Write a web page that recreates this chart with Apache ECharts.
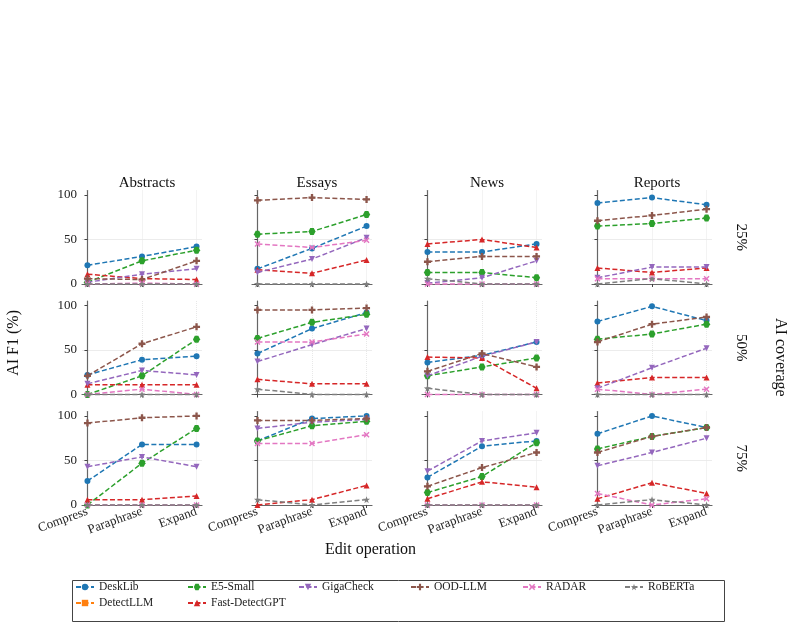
<!DOCTYPE html>
<html>
<head>
<meta charset="utf-8">
<script src="https://cdn.jsdelivr.net/npm/echarts@6/dist/echarts.min.js"></script>
<style>
  html, body { margin: 0; padding: 0; background: #fff; }
  #main { width: 794px; height: 625px; }
</style>
</head>
<body>
<div id="main"></div>
<script>
var categories = ['Compress', 'Paraphrase', 'Expand'];
var domains = ['Abstracts', 'Essays', 'News', 'Reports'];
var coverages = ['25%', '50%', '75%'];
var yTicks = [0, 50, 100];
var methods = ['DeskLib', 'DetectLLM', 'E5-Small', 'Fast-DetectGPT', 'GigaCheck', 'OOD-LLM', 'RADAR', 'RoBERTa'];

// 12 panels each, row by row (25%, 50%, 75%) x (Abstracts, Essays, News, Reports)
var deskLib = [
    [21, 31, 42], [17, 40, 65], [36, 36, 45], [91, 97, 89],
    [22, 39, 43], [46, 74, 92], [36, 44, 59], [82, 99, 83],
    [27, 68, 68], [72, 97, 100], [31, 66, 72], [80, 100, 87]
];
// DetectLLM only shows up in the legend, no points are visible
var detectLLM = [
    [null, null, null], [null, null, null], [null, null, null], [null, null, null],
    [null, null, null], [null, null, null], [null, null, null], [null, null, null],
    [null, null, null], [null, null, null], [null, null, null], [null, null, null]
];
var e5Small = [
    [2, 26, 38], [56, 59, 78], [13, 13, 7], [65, 68, 74],
    [0, 21, 62], [63, 81, 90], [21, 31, 41], [62, 68, 79],
    [0, 47, 86], [72, 89, 94], [14, 32, 70], [63, 77, 87]
];
var fastDetectGPT = [
    [11, 6, 5], [16, 12, 27], [45, 50, 41], [18, 13, 18],
    [11, 11, 11], [17, 12, 12], [42, 41, 7], [13, 19, 19],
    [6, 6, 10], [0, 6, 22], [7, 26, 20], [7, 25, 13]
];
var gigaCheck = [
    [2, 11, 17], [13, 28, 52], [1, 7, 26], [7, 19, 19],
    [12, 27, 22], [37, 56, 74], [21, 43, 59], [7, 30, 52],
    [43, 54, 43], [86, 93, 96], [38, 72, 81], [44, 59, 75]
];
var oodLLM = [
    [6, 5, 26], [94, 97, 95], [25, 31, 31], [71, 77, 84],
    [21, 57, 76], [95, 95, 97], [26, 46, 31], [59, 79, 87],
    [92, 98, 100], [95, 95, 97], [21, 42, 59], [59, 77, 87]
];
var radar = [
    [0, 1, 0], [45, 41, 49], [0, 0, 0], [6, 6, 6],
    [0, 6, 0], [59, 59, 68], [0, 0, 0], [6, 0, 6],
    [0, 0, 0], [69, 69, 79], [0, 0, 0], [13, 0, 7]
];
var roberta = [
    [0, 0, 0], [0, 0, 0], [6, 0, 0], [0, 6, 0],
    [0, 0, 0], [6, 0, 0], [7, 0, 0], [0, 0, 0],
    [0, 0, 0], [6, 0, 6], [0, 0, 0], [0, 6, 0]
];
var methodValues = [deskLib, detectLLM, e5Small, fastDetectGPT, gigaCheck, oodLLM, radar, roberta];

var colors = ['#1f77b4', '#ff7f0e', '#2ca02c', '#d62728', '#9467bd', '#8c564b', '#e377c2', '#7f7f7f'];
var symbols = [
    'circle',
    'rect',
    'path://M-2,-3.46L2,-3.46L4,0L2,3.46L-2,3.46L-4,0Z',
    'triangle',
    'triangle',
    'path://M-1,-3H1V-1H3V1H1V3H-1V1H-3V-1H-1Z',
    'path://M-3,-2L-2,-3L0,-1L2,-3L3,-2L1,0L3,2L2,3L0,1L-2,3L-3,2L-1,0Z',
    'path://M0,-10L2.4,-3.3L9.5,-3.1L3.8,1.3L5.9,8.1L0,4L-5.9,8.1L-3.8,1.3L-9.5,-3.1L-2.4,-3.3Z'
];
var symbolRotate = [0, 0, 0, 0, 180, 0, 0, 0];
var symbolSizes = [6, 5, 7, 6, 6, 7, 6, 7];

var serif = 'Liberation Serif';
var left0 = 82, colStep = 170, panelW = 120;
var top0 = 190.5, rowStep = 110.5, panelH = 93.5;

var myChart = echarts.init(document.getElementById('main'));

var grids = [], xAxes = [], yAxes = [], series = [];
for (var r = 0; r < coverages.length; r++) {
    for (var c = 0; c < domains.length; c++) {
        var idx = r * domains.length + c;
        grids.push({ left: left0 + c * colStep, top: top0 + r * rowStep, width: panelW, height: panelH });
        xAxes.push({
            type: 'value', gridIndex: idx, min: -0.1, max: 2.1,
            axisLine: { lineStyle: { color: '#666', width: 1.2 } },
            axisTick: { show: true, customValues: [0, 1, 2], length: 3, lineStyle: { color: '#444' } },
            axisLabel: {
                show: r === 2, customValues: [0, 1, 2], rotate: 20, margin: 6,
                fontFamily: serif, fontSize: 13, color: '#222',
                formatter: function (v) { return categories[Math.round(v)]; }
            },
            splitLine: { show: true, lineStyle: { color: '#e8e8e8', type: 'dotted' } }
        });
        yAxes.push({
            type: 'value', gridIndex: idx, min: 0, max: 105,
            axisLine: { show: true, lineStyle: { color: '#666', width: 1.2 } },
            axisTick: { show: true, customValues: yTicks, length: 3, lineStyle: { color: '#444' } },
            axisLabel: {
                show: c === 0, customValues: yTicks, margin: 5,
                fontFamily: serif, fontSize: 13, color: '#222'
            },
            splitLine: { show: true, showMaxLine: false, lineStyle: { color: '#ececec' } }
        });
        for (var m = 0; m < methods.length; m++) {
            var vals = methodValues[m][idx];
            series.push({
                name: methods[m],
                type: 'line',
                xAxisIndex: idx,
                yAxisIndex: idx,
                data: vals.map(function (v, i) { return [i, v]; }),
                symbol: symbols[m],
                symbolSize: symbolSizes[m],
                symbolRotate: symbolRotate[m],
                clip: false,
                color: colors[m],
                lineStyle: { width: 1.5, type: [5, 2.5] },
                itemStyle: { color: colors[m] },
                z: 2 + m
            });
        }
    }
}

// legend in columns, like the original
var legendCols = [['DeskLib', 'DetectLLM'], ['E5-Small', 'Fast-DetectGPT'], ['GigaCheck'], ['OOD-LLM'], ['RADAR'], ['RoBERTa']];
var legendX = [75, 187, 298, 410, 522, 624];
var legends = legendCols.map(function (names, i) {
    return {
        orient: 'vertical', left: legendX[i], top: 581, itemGap: 4,
        itemWidth: 18, itemHeight: 8, selectedMode: false, padding: 0,
        textStyle: { fontFamily: serif, fontSize: 11.5, color: '#222' },
        data: names
    };
});

var titles = domains.map(function (d, c) {
    return {
        text: d, left: left0 + c * colStep + panelW / 2, top: 171, textAlign: 'center',
        textStyle: { fontFamily: serif, fontSize: 15, fontWeight: 'normal', color: '#111' }
    };
});

var graphics = [
    { type: 'text', left: 6, top: 310, rotation: Math.PI / 2,
      style: { text: 'AI F1 (%)', font: '16px "Liberation Serif"', fill: '#111' } },
    { type: 'text', left: 325, top: 542,
      style: { text: 'Edit operation', font: '16px "Liberation Serif"', fill: '#111' } },
    { type: 'text', left: 772, top: 318, rotation: -Math.PI / 2,
      style: { text: 'AI coverage', font: '16px "Liberation Serif"', fill: '#111' } },
    { type: 'rect', left: 70, top: 578, shape: { width: 652, height: 41 },
      style: { fill: 'none', stroke: '#444', lineWidth: 1 } }
];
coverages.forEach(function (cv, r) {
    graphics.push({
        type: 'text', left: 733, top: top0 + r * rowStep + 33, rotation: -Math.PI / 2,
        style: { text: cv, font: '15px "Liberation Serif"', fill: '#111' }
    });
});

var option = {
    animation: false,
    backgroundColor: '#fff',
    title: titles,
    legend: legends,
    grid: grids,
    xAxis: xAxes,
    yAxis: yAxes,
    graphic: graphics,
    series: series
};

myChart.setOption(option);
</script>
</body>
</html>
